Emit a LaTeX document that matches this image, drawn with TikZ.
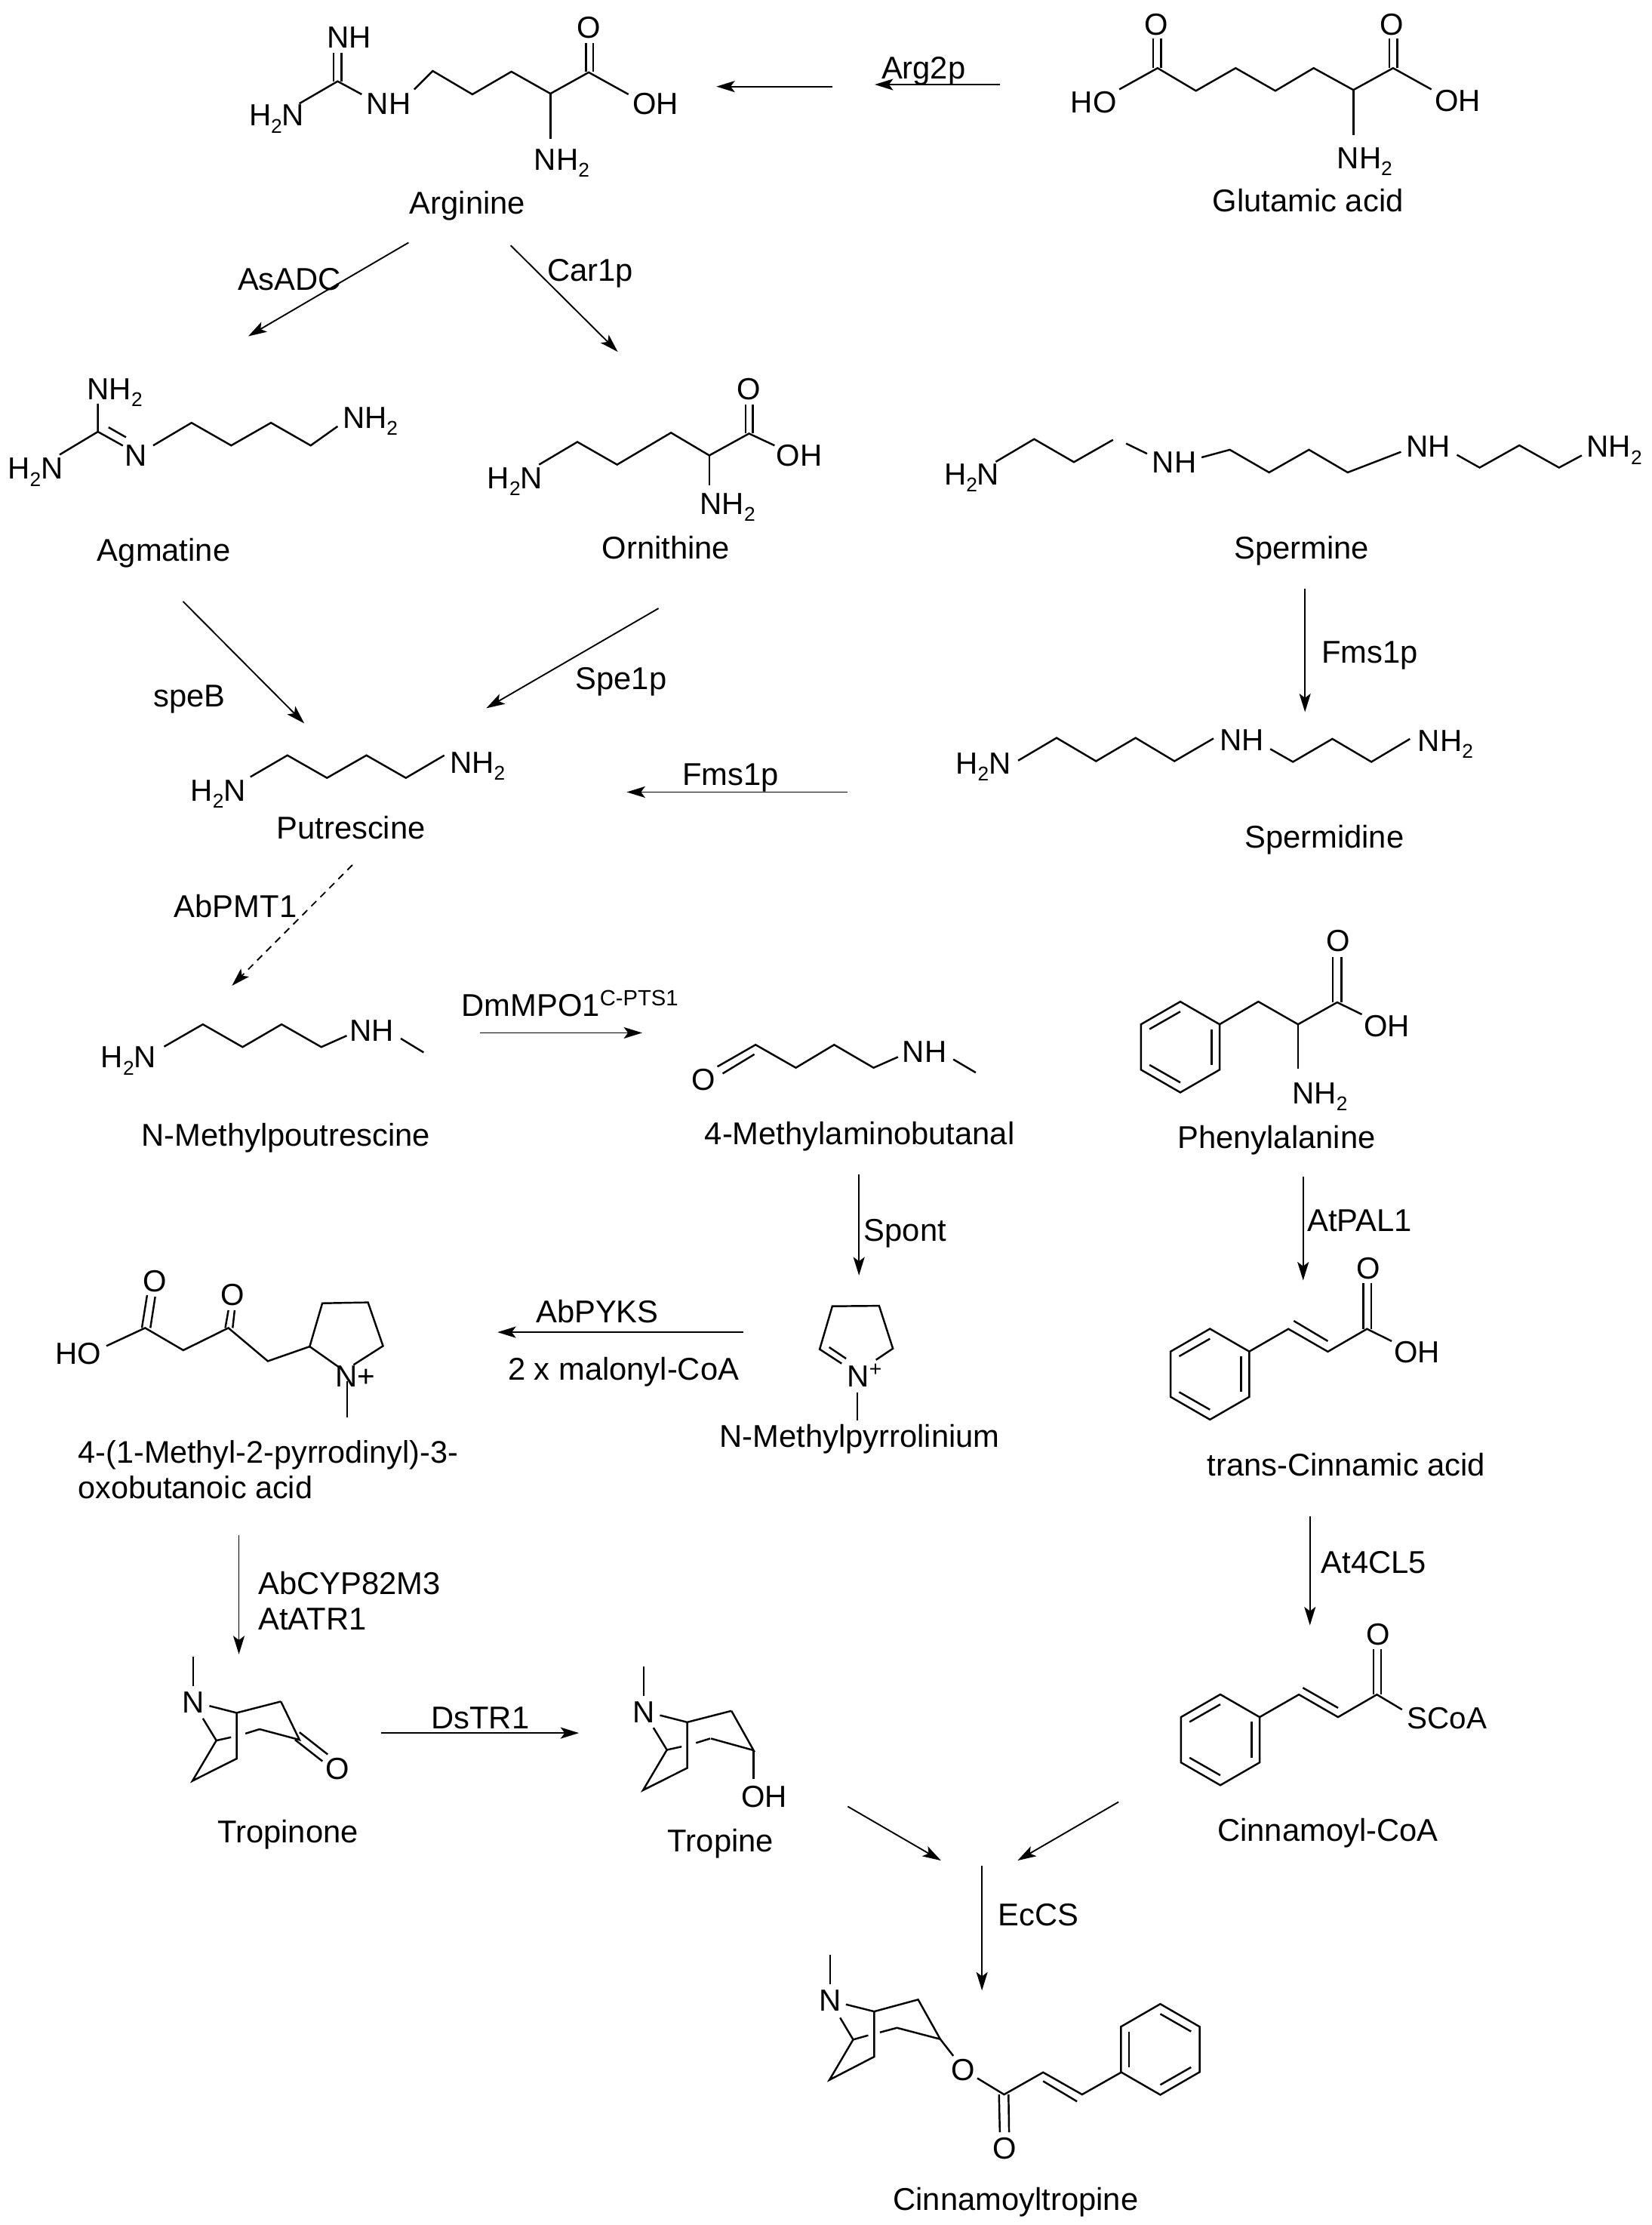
\documentclass[tikz,border=0pt]{standalone}
\usepackage{fontspec}
\setmainfont{Liberation Sans}
\usepackage{tikz}
\usetikzlibrary{arrows.meta}

\newcommand{\subtwo}{\raisebox{-5pt}{\fontsize{14}{14}\selectfont 2}}
\newcommand{\benzring}[3]{%
  \begin{scope}[shift={(#1,#2)},xscale=#3]
    \draw[bond] (0,-32) -- (27.7,-16) -- (27.7,16) -- (0,32) -- (-27.7,16) -- (-27.7,-16) -- cycle;
    \draw[bond] (0,-25) -- (-21.7,-12.6);
    \draw[bond] (22,-12.6) -- (22,12.6);
    \draw[bond] (-21.7,12.6) -- (0,25);
  \end{scope}}
\newcommand{\tropane}[2]{%
  \begin{scope}[shift={(#1,#2)}]
    \draw[bond] (136.3,1167.8) -- (136.3,1188.5);
    \draw[bond] (147.6,1202.4) -- (166.8,1207.3) -- (198,1199.3);
    \draw[bond] (166.8,1207.3) -- (166.8,1239.6) -- (135.7,1255.2) -- (152.5,1226.8) -- (143,1211.2);
    \draw[bond] (152.5,1226.8) -- (162.9,1224.5);
    \draw[bond] (173,1221.9) -- (183,1218.8);
  \end{scope}}

\begin{document}
\begin{tikzpicture}[
  x=1pt, y=-1pt,
  bond/.style={line width=1.3pt, line join=miter},
  arr/.style={-{Stealth[length=13pt, width=8pt, inset=3pt]}, line width=1pt},
  atom/.style={font=\fontsize{21.5}{25}\selectfont, inner sep=0pt, text height=15.4pt, text depth=0pt},
  cpd/.style={font=\fontsize{22.2}{26}\selectfont, inner sep=0pt, text height=16pt, text depth=0pt},
  enz/.style={font=\fontsize{22.2}{26}\selectfont, inner sep=0pt, text height=16pt, text depth=0pt}
]
\useasboundingbox (0,0) rectangle (1164,1568.3);

% arginine
\draw[bond] (211,73) -- (238,57.3) -- (255,66.5);
\draw[bond] (235.1,57.3) -- (235.1,37.4);
\draw[bond] (240.7,57.3) -- (240.7,37.4);
\draw[bond] (292,63) -- (305,50) -- (333,66.5) -- (360.5,50.5) -- (388,66) -- (415,51) -- (443,66.5);
\draw[bond] (388,66) -- (388,98);
\draw[bond] (413.1,50.8) -- (413.1,30.4);
\draw[bond] (418,50.8) -- (418,30.4);
\node[atom] (argNH) at (246,26) {NH};
\node[atom] (argNa) at (195,81) {H\subtwo N};
\node[atom] (argNb) at (274,73) {NH};
\node[atom] (argO) at (415,19) {O};
\node[atom] (argOH) at (462,73) {OH};
\node[atom] (argN) at (396,112) {NH\subtwo};
\node[cpd] (arg) at (329.5,143) {Arginine};

% glutamic acid
\draw[bond] (789,63) -- (816,48) -- (843,64) -- (871,48) -- (899,64) -- (926,48) -- (954,63.4) -- (982,48) -- (1009,63);
\draw[bond] (954,63.4) -- (954,95.4);
\draw[bond] (813,48) -- (813,27);
\draw[bond] (818.5,48) -- (818.5,27);
\draw[bond] (979.5,48) -- (979.5,27);
\draw[bond] (985,48) -- (985,27);
\node[atom] (gluOa) at (815,17) {O};
\node[atom] (gluOb) at (981,17) {O};
\node[atom] (gluHO) at (771,72) {HO};
\node[atom] (gluOH) at (1027.5,71) {OH};
\node[atom] (gluN) at (962,111) {NH\subtwo};
\node[cpd] (glu) at (922,141) {Glutamic acid};

% agmatine
\draw[bond] (69,284.5) -- (69,304.3) -- (42,320.5);
\draw[bond] (69,304.3) -- (86.6,314.1);
\draw[bond] (76.5,301.2) -- (88.8,308.2);
\draw[bond] (108,314) -- (135,298) -- (163,314) -- (191,298) -- (219,314) -- (238,300.5);
\node[atom] (agmNa) at (81,274) {NH\subtwo};
\node[atom] (agmNb) at (25,330) {H\subtwo N};
\node[atom] (agmNc) at (96,321) {N};
\node[atom] (agmNd) at (261,294) {NH\subtwo};
\node[cpd] (agm) at (115.5,387.6) {Agmatine};

% ornithine
\draw[bond] (380,327.5) -- (407,311.5) -- (435,327.5) -- (473,305) -- (500,321) -- (528,305.6) -- (546,314);
\draw[bond] (500,321) -- (500,342);
\draw[bond] (525.5,305.6) -- (525.5,285);
\draw[bond] (530.7,305.6) -- (530.7,285);
\node[atom] (ornNa) at (363,336.6) {H\subtwo N};
\node[atom] (ornO) at (528,274) {O};
\node[atom] (ornOH) at (563.5,321) {OH};
\node[atom] (ornNb) at (513,354.6) {NH\subtwo};
\node[cpd] (orn) at (469.5,386) {Ornithine};

% spermine
\draw[bond] (701.9,325.5) -- (729,309.5) -- (757,325.7) -- (784.6,310);
\draw[bond] (793.8,312.6) -- (808.6,319.8);
\draw[bond] (847,322.4) -- (866.9,317) -- (894.6,333) -- (922.7,317) -- (950,333) -- (987.6,318.5);
\draw[bond] (1027,320.6) -- (1043,329.6) -- (1071,313.9) -- (1099,329.6) -- (1115,321);
\node[atom] (spmNa) at (685,334) {H\subtwo N};
\node[atom] (spmNb) at (827.8,325.5) {NH};
\node[atom] (spmNc) at (1007,314.6) {NH};
\node[atom] (spmNd) at (1138,314.6) {NH\subtwo};
\node[cpd] (spm) at (917.5,386) {Spermine};

% spermidine
\draw[bond] (717.7,536.1) -- (744.8,520.1) -- (772.6,536.5) -- (800.5,520.1) -- (827.9,536.5) -- (855.4,520.5);
\draw[bond] (895.4,527.9) -- (911.4,537) -- (939.2,520.8) -- (966.7,537) -- (993.9,520.8);
\node[atom] (spdNa) at (693.2,537.9) {H\subtwo N};
\node[atom] (spdNb) at (875.4,521.4) {NH};
\node[atom] (spdNc) at (1019,521.9) {NH\subtwo};
\node[cpd] (spd) at (933.5,589.6) {Spermidine};

% putrescine
\draw[bond] (176.5,547.6) -- (202.6,532.4) -- (230.5,548.3) -- (258.3,532.4) -- (286.1,548.3) -- (313.2,532.4);
\node[atom] (putNa) at (153.8,556.8) {H\subtwo N};
\node[atom] (putNb) at (336.6,537.3) {NH\subtwo};
\node[cpd] (put) at (247.4,583.4) {Putrescine};

% N-methylputrescine
\draw[bond] (115.7,737.7) -- (143,722) -- (171,738) -- (198.5,722) -- (226.5,738) -- (244.4,730);
\draw[bond] (282.5,732) -- (298.6,741.8);
\node[atom] (mptNa) at (90.7,745) {H\subtwo N};
\node[atom] (mptNb) at (262,726) {NH};
\node[cpd] (mpt) at (201.5,800) {N-Methylpoutrescine};

% 4-methylaminobutanal
\draw[bond] (505.7,751.8) -- (532.6,736.4) -- (561,752.6) -- (588,736.4) -- (615.8,752.6) -- (633,745);
\draw[bond] (509.4,756.7) -- (531.8,743.1);
\draw[bond] (672,746.7) -- (687.8,756);
\node[atom] (mabO) at (496,761) {O};
\node[atom] (mabN) at (651.7,741) {NH};
\node[cpd] (mab) at (606,798.8) {4-Methylaminobutanal};

% phenylalanine
\benzring{832}{738}{1}
\draw[bond] (859.7,722) -- (887,706) -- (915,722) -- (942.6,706.5) -- (960,715);
\draw[bond] (915,722) -- (915,753.5);
\draw[bond] (939.6,706.5) -- (939.6,674.5);
\draw[bond] (945.5,706.5) -- (945.5,674.5);
\node[atom] (pheO) at (943.3,663) {O};
\node[atom] (pheOH) at (977.6,722.8) {OH};
\node[atom] (pheN) at (930.4,770.3) {NH\subtwo};
\node[cpd] (phe) at (899.8,801.5) {Phenylalanine};

% trans-cinnamic acid
\benzring{852.9}{968.6}{1}
\draw[bond] (880.6,952.6) -- (908.2,936.7) -- (936,952.7) -- (963.6,936.7) -- (981,945.3);
\draw[bond] (912,931) -- (936,945.3);
\draw[bond] (961,936.7) -- (961,904.6);
\draw[bond] (966.6,936.7) -- (966.6,904.6);
\node[atom] (cinO) at (964.4,893.8) {O};
\node[atom] (cinOH) at (998.7,953) {OH};
\node[cpd] (cin) at (949,1032.2) {trans-Cinnamic acid};

% N-methylpyrrolinium
\draw[bond] (593.3,961.1) -- (577.8,951) -- (586.7,920.7) -- (619.7,920.4) -- (629.4,950.5) -- (617.5,958.5);
\draw[bond] (584.5,949.6) -- (596.4,957.6);
\draw[bond] (604.3,981.5) -- (604.3,1001.4);
\node[atom, anchor=west] (mpyN) at (597,970) {N\textsuperscript{+}};
\node[cpd] (mpy) at (606,1012) {N-Methylpyrrolinium};

% 4-(1-methyl-2-pyrrodinyl)-3-oxobutanoic acid
\draw[bond] (75,948.7) -- (102.3,936) -- (129.2,951.7) -- (161,936) -- (188.8,959.4) -- (218.3,949.1) -- (227.2,918.6) -- (259.4,918) -- (270,948.7) -- (249.2,962);
\draw[bond] (218.3,949.1) -- (240.4,964.7);
\draw[bond] (100,936) -- (103.7,912.9);
\draw[bond] (106,936) -- (109.4,914);
\draw[bond] (158.8,936) -- (161,923.5);
\draw[bond] (164,936) -- (165.4,923.5);
\draw[bond] (244.8,973.5) -- (244.8,999.3);
\node[atom] (mpoHO) at (55,954) {HO};
\node[atom] (mpoOa) at (109,902.6) {O};
\node[atom] (mpoOb) at (164,912.4) {O};
\node[atom, anchor=west] (mpoN) at (236,970) {N+};
\node[font=\fontsize{22}{25.2}\selectfont, inner sep=0pt, align=left, anchor=north west] (mpo) at (55,1015) {4-(1-Methyl-2-pyrrodinyl)-3-\\oxobutanoic acid};

% tropinone
\tropane{0}{0}
\draw[bond] (198,1199.3) -- (211.1,1226.3) -- (183,1218.8);
\draw[bond] (211.1,1221) -- (231,1236.6);
\draw[bond] (208,1226.3) -- (227.3,1241.4);
\node[atom] (trnN) at (136.3,1199.7) {N};
\node[atom] (trnO) at (238,1246.7) {O};
\node[cpd] (trn) at (203,1290.6) {Tropinone};

% tropine
\tropane{317.6}{6.6}
\draw[bond] (515.6,1205.9) -- (531.2,1233.7) -- (501.2,1225.4);
\draw[bond] (531.2,1233.7) -- (531.2,1254.1);
\node[atom] (trpN) at (453.9,1206.3) {N};
\node[atom] (trpOH) at (538.8,1266.2) {OH};
\node[cpd] (trp) at (508,1297) {Tropine};

% cinnamoyl-CoA
\benzring{860.2}{1226.3}{1}
\draw[bond] (887.9,1210.3) -- (915.6,1194.4) -- (943.2,1210.3) -- (970.6,1194.4) -- (988.3,1205);
\draw[bond] (918.4,1189.6) -- (943.2,1203.8);
\draw[bond] (968.2,1194.4) -- (968.2,1162.5);
\draw[bond] (973.6,1194.4) -- (973.6,1162.5);
\node[atom] (coaO) at (971.5,1151.8) {O};
\node[atom] (coaS) at (1020,1210.7) {SCoA};
\node[cpd] (coa) at (936,1290) {Cinnamoyl-CoA};

% cinnamoyltropine
\draw[bond] (585.3,1377.9) -- (585.3,1398.8);
\draw[bond] (596.3,1412.8) -- (616.2,1417.8) -- (647.2,1409.4) -- (662.8,1437.3) -- (632.3,1429.3) -- (620.3,1432.5);
\draw[bond] (592.2,1422.2) -- (601.4,1437.6) -- (584.7,1466) -- (616.2,1449.7) -- (616.2,1417.8);
\draw[bond] (601.4,1437.6) -- (612,1434.6);
\draw[bond] (662.8,1437.3) -- (672,1449.1);
\draw[bond] (688.9,1464.8) -- (707.8,1476.3) -- (735.3,1460.7) -- (762.8,1476.3) -- (790.3,1460.7);
\draw[bond] (735.3,1466.9) -- (759.2,1481.2);
\draw[bond] (704.2,1476.3) -- (704.8,1502.9);
\draw[bond] (710.9,1476.3) -- (711.3,1502.9);
\benzring{817.9}{1444.5}{-1}
\node[atom] (ctrN) at (585.1,1409.8) {N};
\node[atom] (ctrOa) at (679.1,1458.5) {O};
\node[atom] (ctrOb) at (708.2,1514) {O};
\node[cpd] (ctr) at (716,1549.9) {Cinnamoyltropine};

% reactions
\coordinate (gluend) at (705,59.6); \coordinate (glutip) at (616.6,59.6);
\coordinate (arga) at (587,61); \coordinate (argb) at (505,61);
\coordinate (agmfrom) at (288,171); \coordinate (agmto) at (175,237);
\coordinate (ornfrom) at (360,173); \coordinate (ornto) at (435.5,248);
\coordinate (spefrom) at (129,423.9); \coordinate (speto) at (214.5,509.9);
\coordinate (ospfrom) at (464.2,428.8); \coordinate (ospto) at (342.8,499.2);
\coordinate (fmsfrom) at (597.2,558.3); \coordinate (fmsto) at (441.8,558.3);
\coordinate (spmfrom) at (919.9,415); \coordinate (spmto) at (919.9,501.9);
\coordinate (pmtfrom) at (248.4,609.7); \coordinate (pmtto) at (163.5,694.8);
\coordinate (mpofrom) at (338.5,728); \coordinate (mpoto) at (452.7,728);
\coordinate (spofrom) at (605.5,828); \coordinate (spoto) at (605.5,899);
\coordinate (palfrom) at (918.6,829.4); \coordinate (palto) at (918.6,902.5);
\coordinate (pykfrom) at (524,939); \coordinate (pykto) at (350.7,939);
\coordinate (cypfrom) at (168.4,1082); \coordinate (cypto) at (168.4,1166);
\coordinate (clfrom) at (923.4,1069); \coordinate (clto) at (923.4,1145.6);
\coordinate (trfrom) at (268.5,1221.5); \coordinate (trto) at (408.1,1221.5);
\coordinate (tpfrom) at (597.6,1273.3); \coordinate (tpto) at (663.3,1311.4);
\coordinate (ccfrom) at (788.5,1270.1); \coordinate (ccto) at (717.3,1311.4);
\coordinate (ecsfrom) at (692.2,1315); \coordinate (ecsto) at (692.2,1403);
\draw[arr] (gluend) -- (glutip);
\draw[arr] (arga) -- (argb);
\draw[arr] (agmfrom) -- (agmto);
\draw[arr] (ornfrom) -- (ornto);
\draw[arr] (spefrom) -- (speto);
\draw[arr] (ospfrom) -- (ospto);
\draw[arr] (fmsfrom) -- (fmsto);
\draw[arr] (spmfrom) -- (spmto);
\draw[arr, dash pattern=on 5pt off 4pt] (pmtfrom) -- (pmtto);
\draw[arr] (mpofrom) -- (mpoto);
\draw[arr] (spofrom) -- (spoto);
\draw[arr] (palfrom) -- (palto);
\draw[arr] (pykfrom) -- (pykto);
\draw[arr] (cypfrom) -- (cypto);
\draw[arr] (clfrom) -- (clto);
\draw[arr] (trfrom) -- (trto);
\draw[arr] (tpfrom) -- (tpto);
\draw[arr] (ccfrom) -- (ccto);
\draw[arr] (ecsfrom) -- (ecsto);

% enzymes
\node[enz] (e1) at (651,47.7) {Arg2p};
\node[enz] (e2) at (204,196.5) {AsADC};
\node[enz] (e3) at (416,190) {Car1p};
\node[enz] (e4) at (133.4,490.4) {speB};
\node[enz] (e5) at (437.8,478) {Spe1p};
\node[enz] (e6) at (515.1,545.3) {Fms1p};
\node[enz] (e7) at (965.5,459.3) {Fms1p};
\node[enz] (e8) at (166,638.6) {AbPMT1};
\node[enz] (e9) at (402,708.4) {DmMPO1\textsuperscript{C-PTS1}};
\node[enz] (e10) at (638,866.6) {Spont};
\node[enz] (e11) at (958.5,860) {AtPAL1};
\node[enz] (e12) at (421,924.4) {AbPYKS};
\node[enz] (e13) at (439.5,964.7) {2 x malonyl-CoA};
\node[enz, anchor=west] (e14) at (182,1116) {AbCYP82M3};
\node[enz, anchor=west] (e15) at (182,1141) {AtATR1};
\node[enz] (e16) at (968.5,1101) {At4CL5};
\node[enz] (e17) at (338.5,1210.7) {DsTR1};
\node[enz] (e18) at (732,1349.5) {EcCS};
\end{tikzpicture}
\end{document}
